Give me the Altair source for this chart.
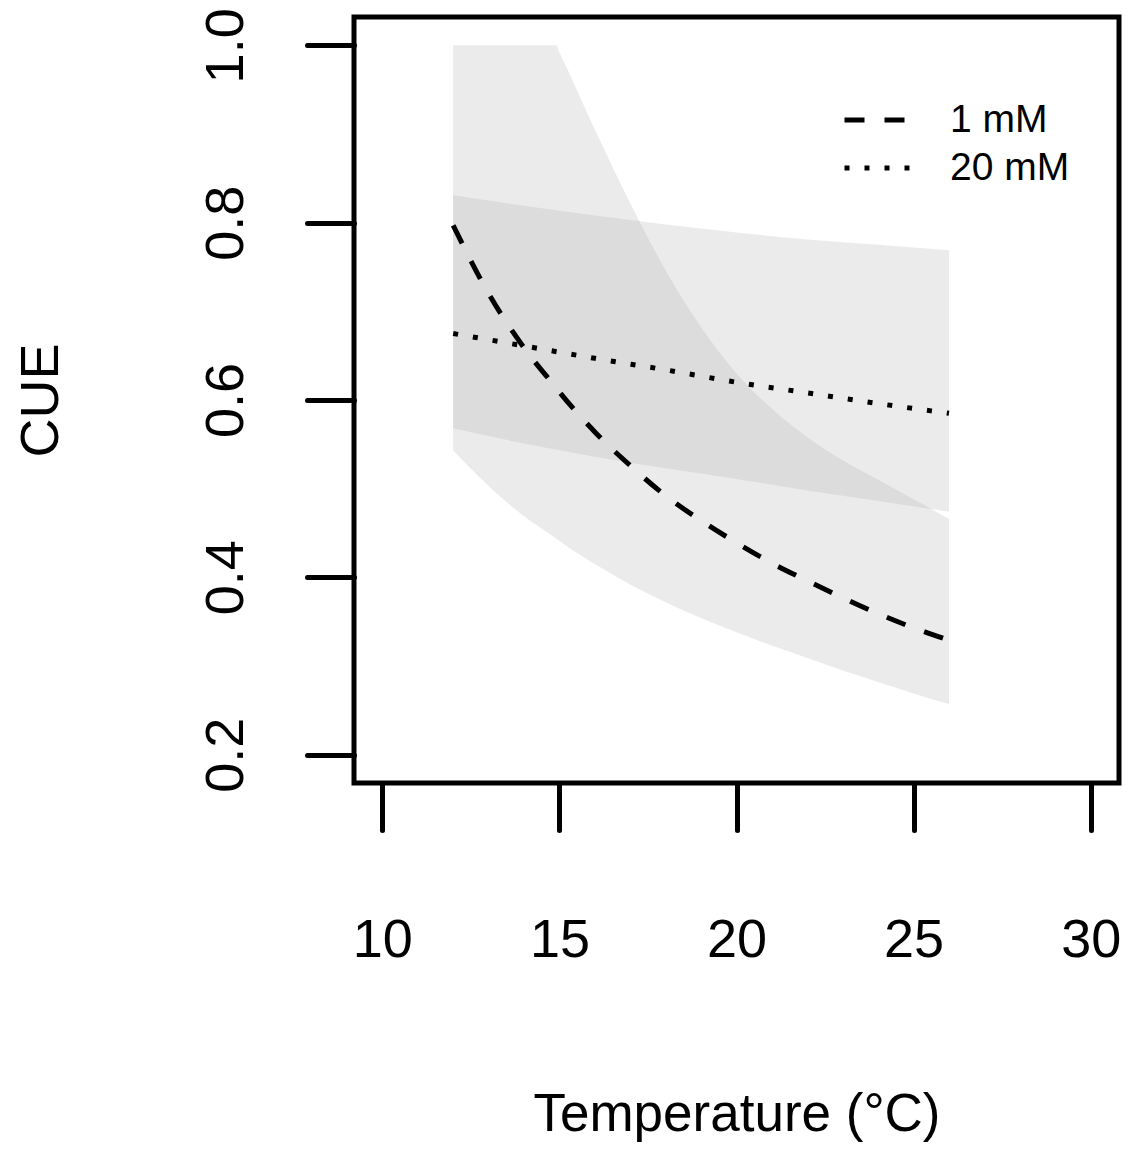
import altair as alt
import pandas as pd

# ---- data ----
temp_1mM = [12, 13, 14, 14.9, 15, 16, 17, 18, 19, 20, 21, 22, 23, 24, 25, 26]
cue_1mM = [0.797, 0.720, 0.659, 0.614, 0.609, 0.564, 0.526, 0.492, 0.464, 0.439,
           0.416, 0.396, 0.377, 0.359, 0.343, 0.329]
lower_1mM = [0.543, 0.503, 0.469, 0.444, 0.441, 0.415, 0.392, 0.372, 0.354, 0.338,
             0.323, 0.309, 0.295, 0.282, 0.269, 0.257]
upper_1mM = [1.0, 1.0, 1.0, 1.0, 0.992, 0.905, 0.822, 0.746, 0.682, 0.630,
             0.590, 0.558, 0.532, 0.510, 0.488, 0.466]

temp_20mM = [12, 14, 16, 18, 20, 22, 24, 26]
cue_20mM = [0.675, 0.661, 0.647, 0.634, 0.620, 0.608, 0.596, 0.585]
lower_20mM = [0.568, 0.551, 0.536, 0.523, 0.511, 0.498, 0.486, 0.474]
upper_20mM = [0.831, 0.819, 0.808, 0.798, 0.789, 0.781, 0.775, 0.769]

series = ["1 mM", "20 mM"]
x_ticks = [10, 15, 20, 25, 30]
y_ticks = [0.2, 0.4, 0.6, 0.8, 1.0]

df = pd.concat([
    pd.DataFrame({"Temperature": temp_1mM, "CUE": cue_1mM, "lower": lower_1mM,
                  "upper": upper_1mM, "Glucose": series[0]}),
    pd.DataFrame({"Temperature": temp_20mM, "CUE": cue_20mM, "lower": lower_20mM,
                  "upper": upper_20mM, "Glucose": series[1]}),
], ignore_index=True)

FONT = "Liberation Sans"
W, H = 765, 766

x_axis = alt.Axis(values=x_ticks, title="Temperature (°C)", labelBaseline="alphabetic",
                  labelPadding=126, labelAlign="center", labelFlush=False, labelOverlap=False,
                  titleX=W / 2, titleY=347, titleAlign="center", titleBaseline="alphabetic",
                  titleAngle=0, titleFontSize=53)
y_axis = alt.Axis(values=y_ticks, format=".1f", title="CUE", labelAngle=270,
                  labelAlign="center", labelBaseline="alphabetic", labelPadding=65,
                  labelFlush=False, labelOverlap=False,
                  titleAngle=270, titleX=-297, titleY=H / 2, titleAlign="center",
                  titleBaseline="alphabetic")

xs = alt.Scale(domain=[9.2, 30.8], nice=False, zero=False)
ys = alt.Scale(domain=[0.168, 1.032], nice=False, zero=False)

bands = alt.Chart(df).mark_area(color="#acacac", opacity=0.24, interpolate="monotone").encode(
    x=alt.X("Temperature:Q", scale=xs, axis=x_axis),
    y=alt.Y("lower:Q", scale=ys, axis=y_axis),
    y2="upper:Q",
    detail="Glucose:N",
)

lines = alt.Chart(df).mark_line(color="black", strokeWidth=5, interpolate="monotone",
                                strokeCap="butt").encode(
    x=alt.X("Temperature:Q", scale=xs, axis=x_axis),
    y=alt.Y("CUE:Q", scale=ys, axis=y_axis),
    strokeDash=alt.StrokeDash(
        "Glucose:N",
        scale=alt.Scale(domain=series, range=[[20, 20], [5, 15]]),
        legend=alt.Legend(title=None, orient="none", legendX=488, legendY=83,
                          symbolType="stroke", symbolSize=5625, symbolStrokeWidth=5,
                          symbolStrokeColor="black", labelFont=FONT, labelFontSize=39,
                          labelColor="black", labelOffset=28, rowPadding=8, padding=0,
                          clipHeight=40),
    ),
)

chart = alt.layer(bands, lines).properties(
    width=W, height=H,
    autosize=alt.AutoSizeParams(type="none"),
    padding={"left": 346, "top": 9, "right": 5, "bottom": 360},
).configure_view(stroke="black", strokeWidth=5).configure_axis(
    grid=False, domain=False, ticks=True, tickColor="black", tickWidth=5, tickSize=47,
    tickCap="round", labelFont=FONT, labelFontSize=54, labelColor="black",
    titleFont=FONT, titleFontSize=54, titleFontWeight="normal", titleColor="black",
)

chart.save("out.html", embed_options={"renderer": "svg", "actions": False})
